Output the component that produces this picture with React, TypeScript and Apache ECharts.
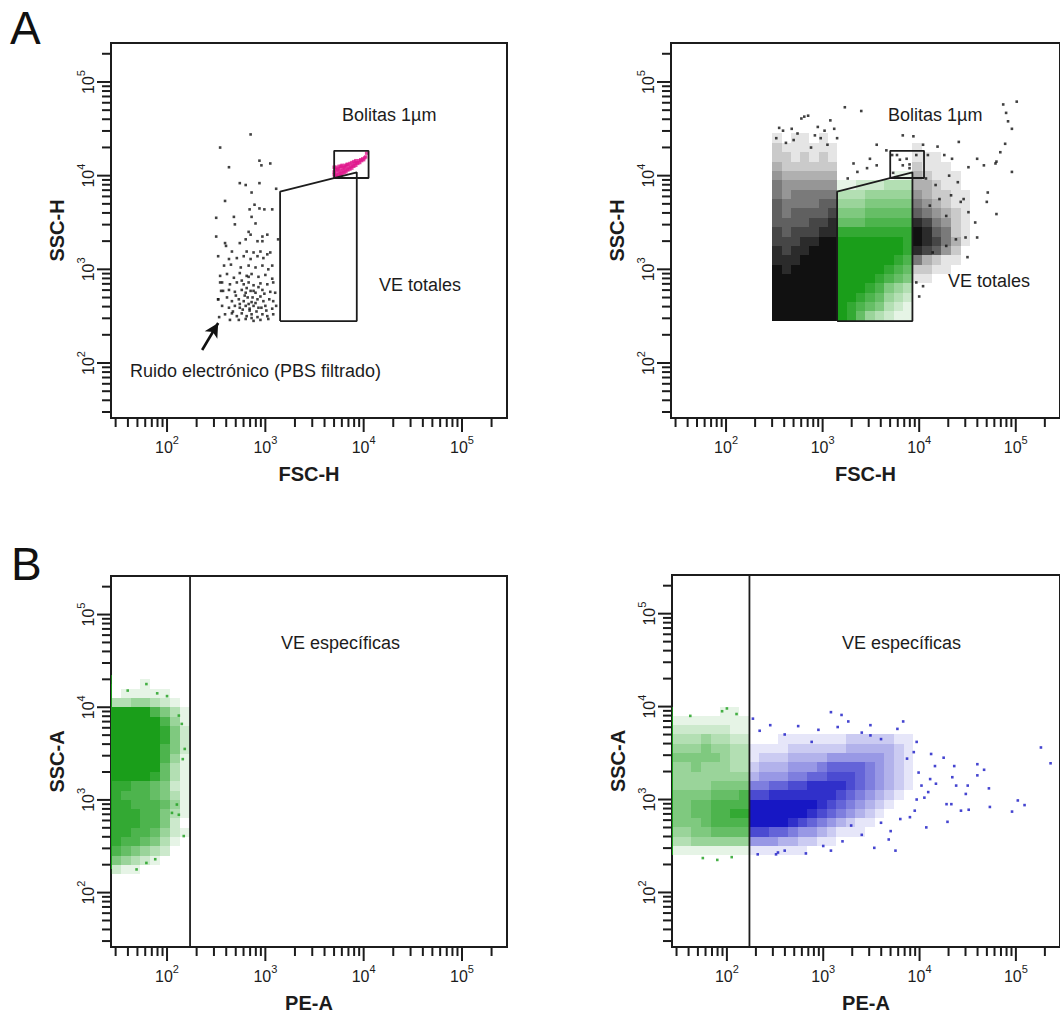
import { useEffect, useRef } from "react";
import * as echarts from "echarts";

// ---- axis extents, in decades (log10 of the channel value) ----
const X_RANGE = [1.43, 5.458];
const Y_RANGE = [1.413, 5.416];
const DECADES = [2, 3, 4, 5];
const MINOR_TICK_VALUES = [
  30, 40, 50, 60, 70, 80, 90,
  200, 300, 400, 500, 600, 700, 800, 900,
  2000, 3000, 4000, 5000, 6000, 7000, 8000, 9000,
  20000, 30000, 40000, 50000, 60000, 70000, 80000, 90000,
  200000,
];

// ---- gates ----
const GATE_VE_TOTALES = [[3.15, 2.448], [3.15, 3.829], [3.93, 4.036], [3.93, 2.448], [3.15, 2.448]];
const GATE_BOLITAS = [[3.70, 3.975], [4.05, 3.975], [4.05, 4.265], [3.70, 4.265], [3.70, 3.975]];
const GATE_PE = 2.234;
const ARROW_FROM = [2.357, 2.139];
const ARROW_TO = [2.52, 2.427];

// ---- event density grids: rows listed top to bottom, one digit (0-9) per cell ----
type Cloud = { x0: number; y0: number; dx: number; dy: number; rows: string[] };

const A2_BLACK_LEFT: Cloud = {
  x0: 2.48, y0: 2.45, dx: 0.0957, dy: 0.1,
  rows: [
    "1011010", "2111111", "2212121", "3222222", "4333333", "5444444", "5455555",
    "6555566", "6566667", "6666778", "7677788", "7778899", "8788999", "8889999",
    "9899999", "9999999", "9999999", "9999999", "9999999", "9999999",
  ],
};
const A2_GREEN_GATE: Cloud = {
  x0: 3.15, y0: 2.45, dx: 0.0975, dy: 0.1,
  rows: [
    "00000011", "11222333", "33344444", "44455555", "55566666", "66677777", "88888888",
    "99999998", "99999998", "99999987", "99999876", "99998765", "99987543", "99876432",
    "98765321", "98643211",
  ],
};
const A2_BLACK_RIGHT: Cloud = {
  x0: 3.93, y0: 2.85, dx: 0.1, dy: 0.1,
  rows: [
    "1000000", "1110000", "2111000", "3211100", "3321100", "4322110", "5432110",
    "6543210", "8754210", "9865210", "9875310", "8764200", "5321100", "2211000", "1100000",
  ],
};
const B1_GREEN: Cloud = {
  x0: 1.43, y0: 2.2, dx: 0.1, dy: 0.1,
  rows: [
    "00010000", "01111100", "33443210", "99997531", "99999741", "99999852", "99999852",
    "99999752", "99999741", "99999631", "99998631", "88776521", "87776531", "88777641",
    "88877531", "88877520", "88776421", "87765310", "76543200", "54321000", "21100000",
  ],
};
const B1_GREEN_EDGE: Cloud = {
  x0: 1.43, y0: 2.25, dx: 0.015, dy: 0.1,
  rows: ["7", "9", "9", "9", "9", "9", "9", "9", "9", "9", "9", "9", "9", "9", "9", "9", "9", "9", "9", "9", "9"],
};
const B2_GREEN: Cloud = {
  x0: 1.43, y0: 2.4, dx: 0.1, dy: 0.1,
  rows: [
    "00000110", "11111111", "22222211", "33343322", "44454433", "55555433", "44544433",
    "44444444", "44445555", "55556667", "55667777", "55667788", "55567777", "44556666",
    "33444444", "11111111",
  ],
};
const B2_GREEN_EDGE: Cloud = {
  x0: 1.43, y0: 2.4, dx: 0.015, dy: 0.1,
  rows: ["7", "9", "9", "9", "9", "9", "9", "9", "9", "9", "9", "9", "9", "9", "9", "9"],
};
const B2_BLUE: Cloud = {
  x0: 2.234, y0: 2.4, dx: 0.1, dy: 0.1,
  rows: [
    "000111111122222110", "111122222233333210", "122233334444443210", "233344456666543210",
    "344455667776543210", "556677888876543210", "778888888765432100", "999999987654321000",
    "999999876543210000", "999987654321100000", "776654432111000000", "444332211000000000",
    "111111000000000000",
  ],
};

// ---- individual events (log10 FSC-H / log10 SSC-H, log10 PE-A / log10 SSC-A) ----
const A1_NOISE = [
  [2.85, 4.44], [2.54, 4.30], [2.63, 4.09], [2.94, 4.16], [3.05, 4.13], [2.96, 4.11], [2.74, 3.92],
  [2.80, 3.90], [2.94, 3.92], [2.86, 3.82], [2.59, 3.73], [2.84, 3.64], [2.94, 3.65], [2.99, 3.64],
  [3.07, 3.64], [2.89, 3.69], [2.50, 3.55], [2.68, 3.56], [2.86, 3.56], [2.69, 3.48], [2.90, 3.49],
  [2.83, 3.40], [2.85, 3.37], [2.97, 3.35], [3.02, 3.37], [2.50, 3.35], [2.59, 3.28], [2.60, 3.25],
  [2.74, 3.28], [2.80, 3.32], [2.92, 3.30], [2.97, 3.30], [2.66, 3.19], [2.81, 3.19], [2.88, 3.18],
  [2.95, 3.19], [3.02, 3.16], [3.05, 3.18], [2.52, 3.14], [2.63, 3.11], [2.71, 3.12], [2.78, 3.14],
  [2.85, 3.11], [2.92, 3.14], [2.98, 3.12], [2.58, 3.04], [2.65, 3.05], [2.75, 3.02], [2.83, 3.04],
  [2.90, 3.02], [2.97, 3.04], [3.03, 3.00], [3.07, 3.04], [3.13, 3.32], [3.11, 3.86],
  [2.54, 2.93], [2.61, 2.95], [2.68, 2.91], [2.74, 2.96], [2.81, 2.93], [2.86, 2.95], [2.93, 2.92],
  [3.00, 2.94], [3.07, 2.90], [2.56, 2.86], [2.64, 2.84], [2.71, 2.86], [2.78, 2.84], [2.83, 2.86],
  [2.88, 2.83], [2.95, 2.85], [3.02, 2.84], [3.08, 2.86], [2.57, 2.77], [2.63, 2.78], [2.69, 2.76],
  [2.76, 2.78], [2.80, 2.75], [2.85, 2.77], [2.90, 2.75], [2.97, 2.78], [3.05, 2.76], [3.10, 2.75],
  [2.52, 2.68], [2.61, 2.70], [2.66, 2.66], [2.73, 2.68], [2.78, 2.66], [2.82, 2.70], [2.86, 2.65],
  [2.92, 2.68], [2.98, 2.66], [3.04, 2.68], [3.08, 2.66], [2.56, 2.61], [2.63, 2.59], [2.69, 2.61],
  [2.74, 2.59], [2.80, 2.61], [2.84, 2.58], [2.88, 2.61], [2.93, 2.59], [3.00, 2.61], [3.07, 2.58],
  [3.11, 2.61], [2.59, 2.52], [2.66, 2.53], [2.71, 2.50], [2.76, 2.53], [2.81, 2.50], [2.86, 2.52],
  [2.92, 2.49], [2.97, 2.52], [3.02, 2.50], [3.08, 2.52], [2.64, 2.46], [2.73, 2.46], [2.80, 2.47],
  [2.88, 2.45], [2.95, 2.46], [3.03, 2.47], [2.79, 2.72], [2.83, 2.63], [2.87, 2.70], [2.90, 2.64],
  [2.84, 2.56], [2.91, 2.55], [2.77, 2.57], [2.88, 2.77], [2.95, 2.71], [2.81, 2.80], [2.74, 2.63],
  [2.96, 2.59], [2.70, 2.72], [2.99, 2.74], [2.86, 2.48], [2.93, 2.81], [2.76, 2.88], [3.01, 2.56],
  [2.67, 2.55], [2.83, 2.92], [2.53, 2.49], [2.54, 2.86], [2.52, 2.68], [2.55, 2.77],
];
const A1_BEADS = [
  [3.70, 4.01], [3.70, 4.04], [3.71, 4.07], [3.70, 4.09], [3.72, 4.00], [3.72, 4.03], [3.73, 4.06],
  [3.72, 4.09], [3.74, 4.01], [3.75, 4.04], [3.74, 4.07], [3.75, 4.10], [3.76, 4.02], [3.77, 4.05],
  [3.76, 4.08], [3.77, 4.10], [3.78, 4.02], [3.79, 4.05], [3.79, 4.08], [3.78, 4.11], [3.80, 4.03],
  [3.81, 4.06], [3.80, 4.09], [3.81, 4.11], [3.82, 4.04], [3.83, 4.07], [3.82, 4.10], [3.83, 4.12],
  [3.84, 4.06], [3.85, 4.09], [3.84, 4.12], [3.86, 4.07], [3.87, 4.10], [3.86, 4.13], [3.88, 4.08],
  [3.89, 4.11], [3.88, 4.14], [3.90, 4.10], [3.91, 4.13], [3.90, 4.15], [3.92, 4.11], [3.93, 4.14],
  [3.92, 4.16], [3.94, 4.13], [3.95, 4.16], [3.96, 4.14], [3.97, 4.17], [3.98, 4.16], [3.99, 4.18],
  [4.00, 4.17], [4.01, 4.19], [4.02, 4.20], [4.03, 4.24], [3.74, 3.99], [3.77, 4.00], [3.71, 3.99],
];
const A2_SPARSE = [
  [3.23, 4.73], [3.40, 4.69], [2.81, 4.63], [2.78, 4.61], [2.85, 4.64], [3.08, 4.59], [2.55, 4.51],
  [2.59, 4.48], [2.68, 4.50], [2.74, 4.45], [2.92, 4.43], [2.98, 4.40], [3.02, 4.48], [3.15, 4.40],
  [2.62, 4.35], [2.70, 4.38], [2.88, 4.30], [3.05, 4.33], [2.52, 4.40], [2.95, 4.52], [3.12, 4.50],
  [3.26, 3.97], [3.36, 4.04], [3.46, 4.08], [3.56, 4.11], [3.32, 4.13], [3.72, 4.22], [3.73, 4.03],
  [3.49, 4.18], [3.77, 4.22], [3.83, 4.11], [3.90, 4.08], [3.80, 4.17], [3.87, 4.18], [3.90, 4.12],
  [3.97, 4.22], [3.56, 4.33], [3.66, 4.27], [3.83, 4.43], [3.94, 4.42], [4.04, 4.33], [4.09, 4.22],
  [4.19, 4.31], [4.26, 4.22], [4.34, 4.18], [4.41, 4.36], [4.51, 4.09], [4.60, 4.18], [4.67, 4.11],
  [4.80, 4.15], [4.71, 3.82], [4.70, 3.72], [4.80, 3.59], [4.51, 3.61], [4.58, 3.50], [4.48, 3.34],
  [4.60, 3.34], [4.50, 3.13], [4.84, 4.25], [4.89, 4.34], [4.79, 4.13], [4.96, 4.04], [4.90, 4.67],
  [4.92, 4.58], [4.96, 4.50], [5.01, 4.79], [4.87, 4.76], [4.00, 2.71], [3.97, 2.86], [4.04, 2.82],
  [4.14, 3.18], [4.28, 3.25], [4.38, 3.32], [4.11, 3.68], [4.21, 3.75], [4.33, 3.79], [4.43, 3.72],
  [4.28, 3.57], [4.07, 3.97], [4.17, 3.90], [4.31, 4.00], [4.40, 3.93], [4.46, 3.75],
];
const B1_SPARSE = [
  [1.79, 4.25], [2.00, 4.12], [2.12, 3.91], [2.15, 3.82], [2.18, 3.55], [2.16, 3.44], [2.10, 2.95],
  [2.12, 2.84], [2.05, 2.86], [2.17, 2.61], [1.88, 2.36], [1.69, 2.25], [1.79, 2.32], [1.60, 4.18],
  [1.90, 4.15],
];
const B2_GREEN_SPARSE = [
  [2.00, 3.98], [1.95, 3.95], [1.62, 3.90], [2.10, 3.92], [1.75, 2.37], [1.90, 2.35], [2.05, 2.38],
];
const B2_BLUE_SPARSE = [
  [5.26, 3.56], [5.36, 3.39], [5.02, 2.99], [5.09, 2.94], [4.96, 2.87], [4.72, 3.12], [4.73, 2.92],
  [4.67, 3.32], [4.60, 3.38], [4.60, 3.26], [4.50, 3.15], [4.43, 2.88], [4.51, 2.89], [4.48, 3.06],
  [4.36, 3.36], [4.34, 3.24], [4.38, 3.15], [4.28, 2.95], [4.33, 2.95], [4.25, 3.45], [4.29, 2.76],
  [4.12, 3.49], [4.16, 3.36], [4.11, 3.22], [4.17, 3.17], [4.09, 3.08], [4.05, 3.02], [4.07, 2.70],
  [3.97, 3.62], [3.94, 3.51], [3.99, 3.29], [4.02, 3.15], [3.97, 3.00], [3.95, 2.88], [3.90, 2.81],
  [3.83, 3.84], [3.77, 3.76], [3.87, 3.44], [3.70, 2.66], [3.75, 2.45], [3.68, 2.57], [3.53, 2.48],
  [3.80, 2.79], [3.08, 3.94], [3.19, 3.91], [3.26, 3.84], [2.74, 3.79], [2.88, 3.62], [3.29, 2.72],
  [3.08, 2.45], [3.49, 3.80], [3.49, 3.69], [2.53, 2.43], [2.51, 2.41], [2.32, 2.41], [2.34, 3.74],
  [2.27, 3.87], [2.95, 3.75], [3.40, 3.72], [3.60, 3.65], [2.60, 3.70], [3.15, 3.78], [2.45, 3.80],
  [2.60, 2.45], [2.82, 2.42], [3.00, 2.50], [3.20, 2.55], [3.40, 2.62], [3.60, 2.75],
];

// ---- styling ----
const INK = "#1c1c1c";
const BLACK = "#111111";
const GREEN = "#1a9e1a";
const BLUE = "#1717c4";
const MAGENTA = "#e0168c";
const SANS = '"Liberation Sans", Arial, sans-serif';
const NARROW = '"Liberation Sans Narrow", "Liberation Sans", Arial, sans-serif';

const PANELS = [
  { left: 111, top: 43, width: 396, height: 375, xName: "FSC-H", yName: "SSC-H" },
  { left: 671, top: 43, width: 396, height: 375, xName: "FSC-H", yName: "SSC-H" },
  { left: 111, top: 576, width: 396, height: 372, xName: "PE-A", yName: "SSC-A" },
  { left: 672, top: 575, width: 396, height: 373, xName: "PE-A", yName: "SSC-A" },
];

// log-scale tick marks: [decade value, 1 for a labelled decade, 0 otherwise]
const TICKS = [
  ...DECADES.map((d) => [d, 1]),
  ...MINOR_TICK_VALUES.map((v) => [Math.log10(v), 0]),
];

function cloudCells(c: Cloud) {
  const out: number[][] = [];
  const n = c.rows.length;
  c.rows.forEach((row, r) => {
    const yb = c.y0 + (n - 1 - r) * c.dy;
    for (let k = 0; k < row.length; k++) {
      const d = Number(row[k]);
      if (d > 0) {
        const xl = c.x0 + k * c.dx;
        out.push([xl, yb, xl + c.dx, yb + c.dy, d]);
      }
    }
  });
  return out;
}

function densitySeries(cloud: Cloud, color: string, panel: number) {
  return {
    type: "custom",
    xAxisIndex: panel,
    yAxisIndex: panel,
    silent: true,
    clip: true,
    z: 1,
    encode: { x: [0, 2], y: [1, 3] },
    data: cloudCells(cloud),
    renderItem: (_p: any, api: any) => {
      const p0 = api.coord([api.value(0), api.value(3)]);
      const p1 = api.coord([api.value(2), api.value(1)]);
      const x = Math.round(p0[0]);
      const y = Math.round(p0[1]);
      return {
        type: "rect",
        shape: { x, y, width: Math.round(p1[0]) - x, height: Math.round(p1[1]) - y },
        style: { fill: color, opacity: api.value(4) / 9 },
      };
    },
  };
}

// tick marks drawn outside the plot frame, along the bottom (x) or left (y) edge
function tickSeries(dim: "x" | "y", panel: number) {
  const data = TICKS.map(([v, major]) =>
    dim === "x" ? [v, Y_RANGE[0], major] : [X_RANGE[0], v, major]
  );
  return {
    type: "custom",
    xAxisIndex: panel,
    yAxisIndex: panel,
    silent: true,
    clip: false,
    z: 4,
    encode: { x: 0, y: 1 },
    data,
    renderItem: (_p: any, api: any) => {
      const p = api.coord([api.value(0), api.value(1)]);
      const len = api.value(2) ? 14 : 9;
      const shape =
        dim === "x"
          ? { x1: p[0], y1: p[1], x2: p[0], y2: p[1] + len }
          : { x1: p[0], y1: p[1], x2: p[0] - len, y2: p[1] };
      return { type: "line", shape, style: { stroke: INK, lineWidth: 2 } };
    },
  };
}

function dotSeries(data: number[][], color: string, panel: number, size = 3) {
  return {
    type: "scatter",
    xAxisIndex: panel,
    yAxisIndex: panel,
    silent: true,
    z: 2,
    symbol: "rect",
    symbolSize: size,
    itemStyle: { color },
    data,
  };
}

function gateSeries(data: number[][], panel: number) {
  return {
    type: "line",
    xAxisIndex: panel,
    yAxisIndex: panel,
    silent: true,
    z: 3,
    symbol: "none",
    lineStyle: { color: INK, width: 1.8 },
    data,
  };
}

const decadeLabel = (v: number) => `{b|10}{e|${Math.round(v)}}`;
const RICH = {
  b: { fontSize: 16, fontFamily: NARROW, color: INK, lineHeight: 21, verticalAlign: "bottom" },
  e: { fontSize: 11, fontFamily: NARROW, color: INK, lineHeight: 21, verticalAlign: "top" },
};
const NAME_STYLE = { fontSize: 20, fontWeight: "bold", fontFamily: NARROW, color: INK };

function axis(dim: "x" | "y", panel: number, name: string) {
  const range = dim === "x" ? X_RANGE : Y_RANGE;
  return {
    type: "value",
    gridIndex: panel,
    min: range[0],
    max: range[1],
    position: dim === "x" ? "bottom" : "left",
    axisLine: { show: true, onZero: false, lineStyle: { color: INK, width: 2 } },
    axisTick: { show: false },
    axisLabel: {
      show: true,
      customValues: DECADES,
      formatter: decadeLabel,
      rich: RICH,
      margin: dim === "x" ? 16 : 15,
      rotate: dim === "x" ? 0 : 90,
    },
    splitLine: { show: false },
    name,
    nameLocation: "middle",
    nameGap: dim === "x" ? 46 : 44,
    nameTextStyle: NAME_STYLE,
  };
}

function annotation(text: string, left: number, y: number) {
  return {
    type: "text",
    left,
    top: y - 10,
    silent: true,
    style: { text, fill: INK, font: `18px ${SANS}` },
  };
}

function buildOption() {
  const grid = PANELS.map((p) => ({
    left: p.left,
    top: p.top,
    width: p.width,
    height: p.height,
    show: true,
    borderColor: INK,
    borderWidth: 2,
    backgroundColor: "transparent",
  }));
  const xAxis = PANELS.map((p, i) => axis("x", i, p.xName));
  const yAxis = PANELS.map((p, i) => axis("y", i, p.yName));

  const arrow = {
    ...dotSeries([], BLACK, 0),
    markLine: {
      silent: true,
      symbol: ["none", "arrow"],
      symbolSize: [11, 14],
      label: { show: false },
      lineStyle: { color: BLACK, width: 2.6, type: "solid" },
      data: [[{ coord: ARROW_FROM }, { coord: ARROW_TO }]],
    },
  };

  const series: any[] = [
    // A, buffer only
    dotSeries(A1_NOISE, BLACK, 0, 2.6),
    dotSeries(A1_BEADS, MAGENTA, 0, 3.4),
    arrow,
    gateSeries(GATE_VE_TOTALES, 0),
    gateSeries(GATE_BOLITAS, 0),
    // A, sample
    densitySeries(A2_BLACK_LEFT, BLACK, 1),
    densitySeries(A2_GREEN_GATE, GREEN, 1),
    densitySeries(A2_BLACK_RIGHT, BLACK, 1),
    dotSeries(A2_SPARSE, BLACK, 1, 2.6),
    gateSeries(GATE_VE_TOTALES, 1),
    gateSeries(GATE_BOLITAS, 1),
    // B, isotype
    densitySeries(B1_GREEN, GREEN, 2),
    densitySeries(B1_GREEN_EDGE, GREEN, 2),
    dotSeries(B1_SPARSE, GREEN, 2, 2.6),
    gateSeries([[GATE_PE, Y_RANGE[0]], [GATE_PE, Y_RANGE[1]]], 2),
    // B, PE-labelled
    densitySeries(B2_GREEN, GREEN, 3),
    densitySeries(B2_GREEN_EDGE, GREEN, 3),
    dotSeries(B2_GREEN_SPARSE, GREEN, 3, 2.6),
    densitySeries(B2_BLUE, BLUE, 3),
    dotSeries(B2_BLUE_SPARSE, BLUE, 3, 2.6),
    gateSeries([[GATE_PE, Y_RANGE[0]], [GATE_PE, Y_RANGE[1]]], 3),
  ];
  PANELS.forEach((_p, i) => {
    series.push(tickSeries("x", i), tickSeries("y", i));
  });

  const graphic = [
    { type: "text", left: 10, top: 5, silent: true, style: { text: "A", fill: "#111", font: `46px ${SANS}` } },
    { type: "text", left: 11, top: 541, silent: true, style: { text: "B", fill: "#111", font: `46px ${SANS}` } },
    annotation("Bolitas 1µm", 342, 116),
    annotation("VE totales", 379, 286),
    annotation("Ruido electrónico (PBS filtrado)", 130, 372),
    annotation("Bolitas 1µm", 888, 116),
    annotation("VE totales", 948, 282),
    annotation("VE específicas", 281, 644),
    annotation("VE específicas", 842, 644),
  ];

  return { animation: false, backgroundColor: "#ffffff", grid, xAxis, yAxis, series, graphic };
}

export default function App() {
  const ref = useRef<HTMLDivElement>(null);
  useEffect(() => {
    document.body.style.margin = "0";
    if (!ref.current) return;
    const chart = echarts.init(ref.current, undefined, { renderer: "svg" });
    chart.setOption(buildOption() as any);
    return () => chart.dispose();
  }, []);
  return <div ref={ref} style={{ width: 1060, height: 1014, background: "#fff" }} />;
}
